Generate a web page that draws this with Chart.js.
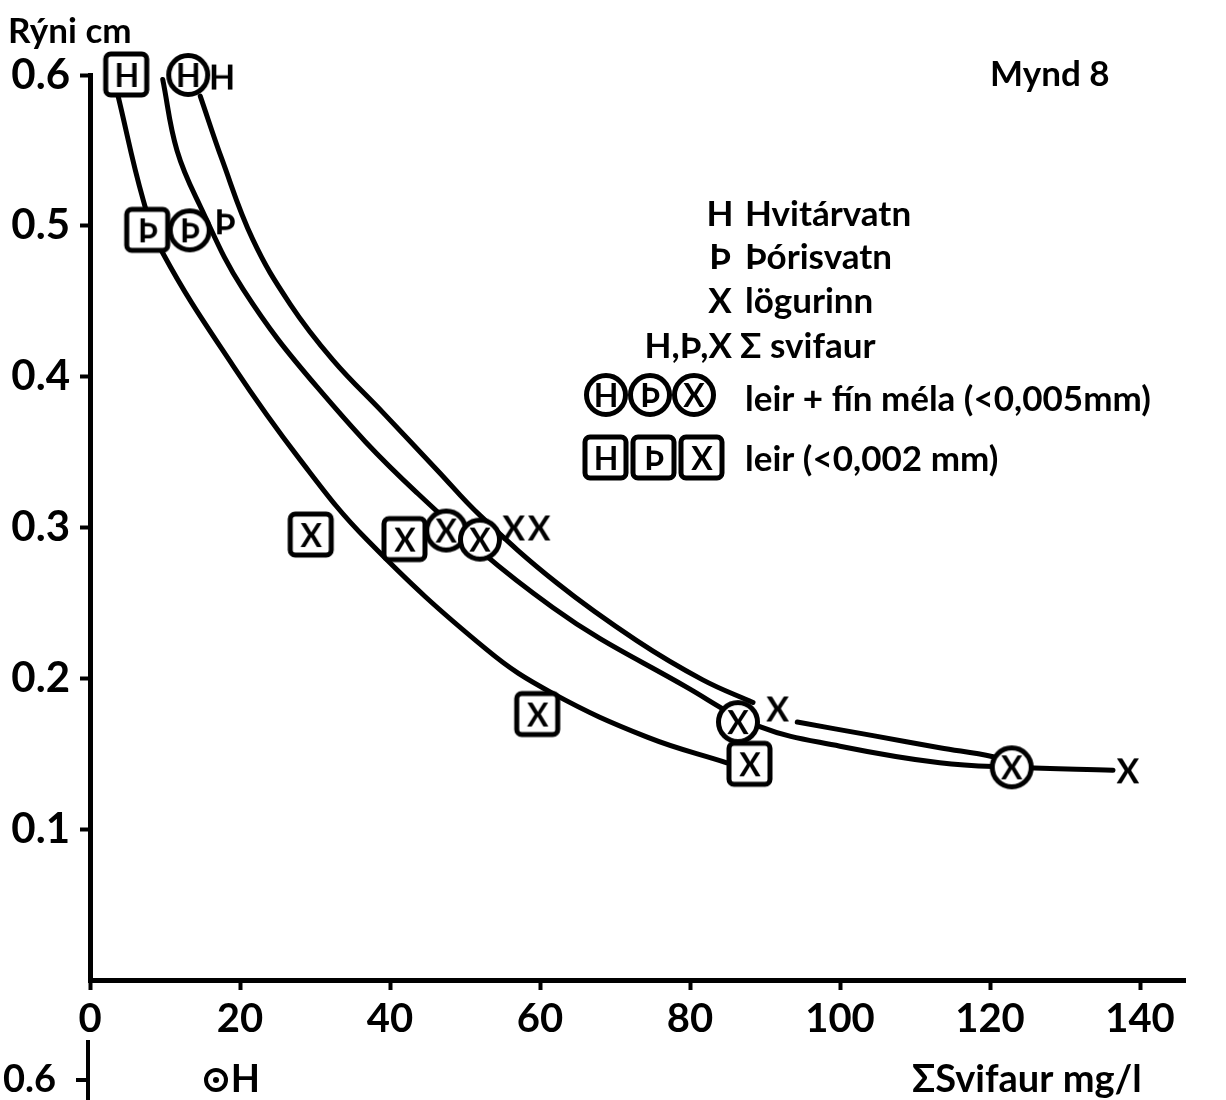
<html>
<head>
<script src="https://cdn.jsdelivr.net/npm/chart.js@4/dist/chart.umd.min.js"></script>
<style>
  body { margin: 0; background: #fff; }
</style>
</head>
<body>
<div style="width:1226px;height:1100px"><canvas id="chart"></canvas></div>
<script>
  // ticks
  var xTicks = [0, 20, 40, 60, 80, 100, 120, 140]
  var yTicks = [0.1, 0.2, 0.3, 0.4, 0.5, 0.6]

  // leir (<0,002 mm) - squares
  var clayX = [4.9, 7.7, 29.5, 42, 59.7, 88]
  var clayY = [0.6, 0.497, 0.295, 0.292, 0.176, 0.143]
  var clayLetters = ['H', 'Þ', 'X', 'X', 'X', 'X']

  // leir + fín méla (<0,005 mm) - circles
  var siltX = [13.1, 13.3, 47.5, 52, 86.4, 122.9]
  var siltY = [0.6, 0.497, 0.298, 0.292, 0.171, 0.141]
  var siltLetters = ['H', 'Þ', 'X', 'X', 'X', 'X']

  // Σ svifaur - plain letters
  var totalX = [17.6, 18, 56.5, 59.9, 91.7, 138.4]
  var totalY = [0.599, 0.503, 0.3, 0.3, 0.18, 0.139]
  var totalLetters = ['H', 'Þ', 'X', 'X', 'X', 'X']

  // hand drawn curves
  var clayCurveX = [3.7, 7.1, 9.7, 19.1, 28, 36.9, 52.9, 61.7, 74.3, 84.9]
  var clayCurveY = [0.587, 0.517, 0.482, 0.407, 0.345, 0.292, 0.219, 0.19, 0.161, 0.144]
  var siltCurveX = [9.7, 11.6, 14.7, 20.4, 30.3, 43.6, 61.7, 79.6, 89.3, 100, 113.3, 123.1, 136.4]
  var siltCurveY = [0.597, 0.55, 0.513, 0.458, 0.393, 0.323, 0.247, 0.194, 0.168, 0.155, 0.144, 0.141, 0.139]
  var totalCurveX = [14.7, 17.6, 21.7, 26.7, 32.4, 39.1, 46.3, 52, 62.3, 72.9, 81.7, 88.4, 91, 94.3, 104.4, 113.3, 120.4, 123.1]
  var totalCurveY = [0.586, 0.544, 0.491, 0.448, 0.411, 0.376, 0.338, 0.308, 0.263, 0.225, 0.199, 0.184, null, 0.171, 0.162, 0.154, 0.148, 0.143]

  var FONT = "Lato, 'DejaVu Sans', sans-serif"

  function makeMarker(shape, letter) {
    var c = document.createElement('canvas')
    c.width = 54
    c.height = 54
    var g = c.getContext('2d')
    g.lineWidth = 5
    g.strokeStyle = '#000'
    g.fillStyle = '#fff'
    if (shape == 'square') {
      g.beginPath()
      g.roundRect(6, 6, 41, 41, 5)
      g.fill()
      g.stroke()
    } else if (shape == 'circle') {
      g.beginPath()
      g.arc(27, 27, 19.5, 0, 2 * Math.PI)
      g.fill()
      g.stroke()
    }
    g.fillStyle = '#000'
    g.font = 'bold ' + (shape == 'plain' ? 34 : 32) + 'px ' + FONT
    g.textAlign = 'center'
    g.textBaseline = 'middle'
    g.fillText(letter, 27, 29)
    return c
  }

  function points(xs, ys) {
    return xs.map(function (x, i) { return { x: x, y: ys[i] } })
  }

  function markerSet(xs, ys, letters, shape) {
    return {
      data: points(xs, ys),
      pointStyle: letters.map(function (l) { return makeMarker(shape, l) }),
      pointRadius: 20,
      showLine: false,
      clip: false,
    }
  }

  function curveSet(xs, ys) {
    return {
      data: points(xs, ys),
      showLine: true,
      borderColor: '#000',
      borderWidth: 5,
      borderCapStyle: 'round',
      pointRadius: 0,
      tension: 0.4,
      spanGaps: false,
      clip: false,
    }
  }

  var notes = {
    id: 'notes',
    afterDraw: function (chart) {
      var ctx = chart.ctx
      ctx.save()
      ctx.fillStyle = '#000'
      ctx.textBaseline = 'middle'
      ctx.font = 'bold 35px ' + FONT
      ctx.textAlign = 'left'
      ctx.fillText('Rýni cm', 8, 32)
      ctx.fillText('Mynd 8', 990, 75)

      // legend
      ctx.textAlign = 'center'
      ctx.fillText('H', 720, 215)
      ctx.fillText('Þ', 720, 258)
      ctx.fillText('X', 720, 302)
      ctx.textAlign = 'right'
      ctx.fillText('H,Þ,X', 732, 347)
      ctx.textAlign = 'left'
      ctx.fillText('Hvitárvatn', 745, 215)
      ctx.fillText('Þórisvatn', 745, 258)
      ctx.fillText('lögurinn', 745, 302)
      ctx.fillText('Σ svifaur', 740, 347)
      ctx.fillText('leir + fín méla (<0,005mm)', 745, 400)
      ctx.fillText('leir (<0,002 mm)', 745, 460)
      var ls = ['H', 'Þ', 'X']
      for (var i = 0; i < 3; i++) {
        ctx.drawImage(makeMarker('circle', ls[i]), 579 + i * 44, 368)
        ctx.drawImage(makeMarker('square', ls[i]), 579 + i * 48, 431)
      }

      // bottom strip (axis title and top of the next figure)
      ctx.font = 'bold 38px ' + FONT
      ctx.fillText('ΣSvifaur mg/l', 912, 1080)
      ctx.textAlign = 'right'
      ctx.fillText('0.6', 56, 1080)
      ctx.fillText('H', 260, 1080)
      ctx.lineWidth = 4
      ctx.strokeStyle = '#000'
      ctx.beginPath()
      ctx.moveTo(88, 1040)
      ctx.lineTo(88, 1100)
      ctx.moveTo(76, 1080)
      ctx.lineTo(88, 1080)
      ctx.stroke()
      ctx.beginPath()
      ctx.arc(216, 1080, 10, 0, 2 * Math.PI)
      ctx.stroke()
      ctx.beginPath()
      ctx.arc(216, 1080, 3, 0, 2 * Math.PI)
      ctx.fill()
      ctx.restore()
    },
  }

  function init() {
    new Chart(document.getElementById('chart'), {
      type: 'scatter',
      data: {
        datasets: [
          markerSet(clayX, clayY, clayLetters, 'square'),
          markerSet(siltX, siltY, siltLetters, 'circle'),
          markerSet(totalX, totalY, totalLetters, 'plain'),
          curveSet(clayCurveX, clayCurveY),
          curveSet(siltCurveX, siltCurveY),
          curveSet(totalCurveX, totalCurveY),
        ],
      },
      options: {
        responsive: true,
        maintainAspectRatio: false,
        animation: false,
        layout: { padding: { top: 75, right: 41, left: 0, bottom: 0 } },
        plugins: { legend: { display: false }, tooltip: { enabled: false } },
        scales: {
          x: {
            type: 'linear',
            min: 0,
            max: 146,
            afterFit: function (s) { s.height = 120 },
            afterBuildTicks: function (s) { s.ticks = xTicks.map(function (v) { return { value: v } }) },
            border: { color: '#000', width: 5 },
            grid: { drawOnChartArea: false, tickLength: 10, tickColor: '#000', tickWidth: 4 },
            ticks: { color: '#000', padding: 5, maxRotation: 0, font: { family: FONT, size: 40, weight: 'bold' } },
          },
          y: {
            type: 'linear',
            min: 0,
            max: 0.6,
            afterFit: function (s) { s.width = 90 },
            afterBuildTicks: function (s) { s.ticks = yTicks.map(function (v) { return { value: v } }) },
            border: { color: '#000', width: 5 },
            grid: { drawOnChartArea: false, tickLength: 10, tickColor: '#000', tickWidth: 4 },
            ticks: {
              color: '#000',
              padding: 10,
              font: { family: FONT, size: 42, weight: 'bold' },
              callback: function (v) { return v.toFixed(1) },
            },
          },
        },
      },
      plugins: [notes],
    })
  }
  init()
</script>
</body>
</html>
